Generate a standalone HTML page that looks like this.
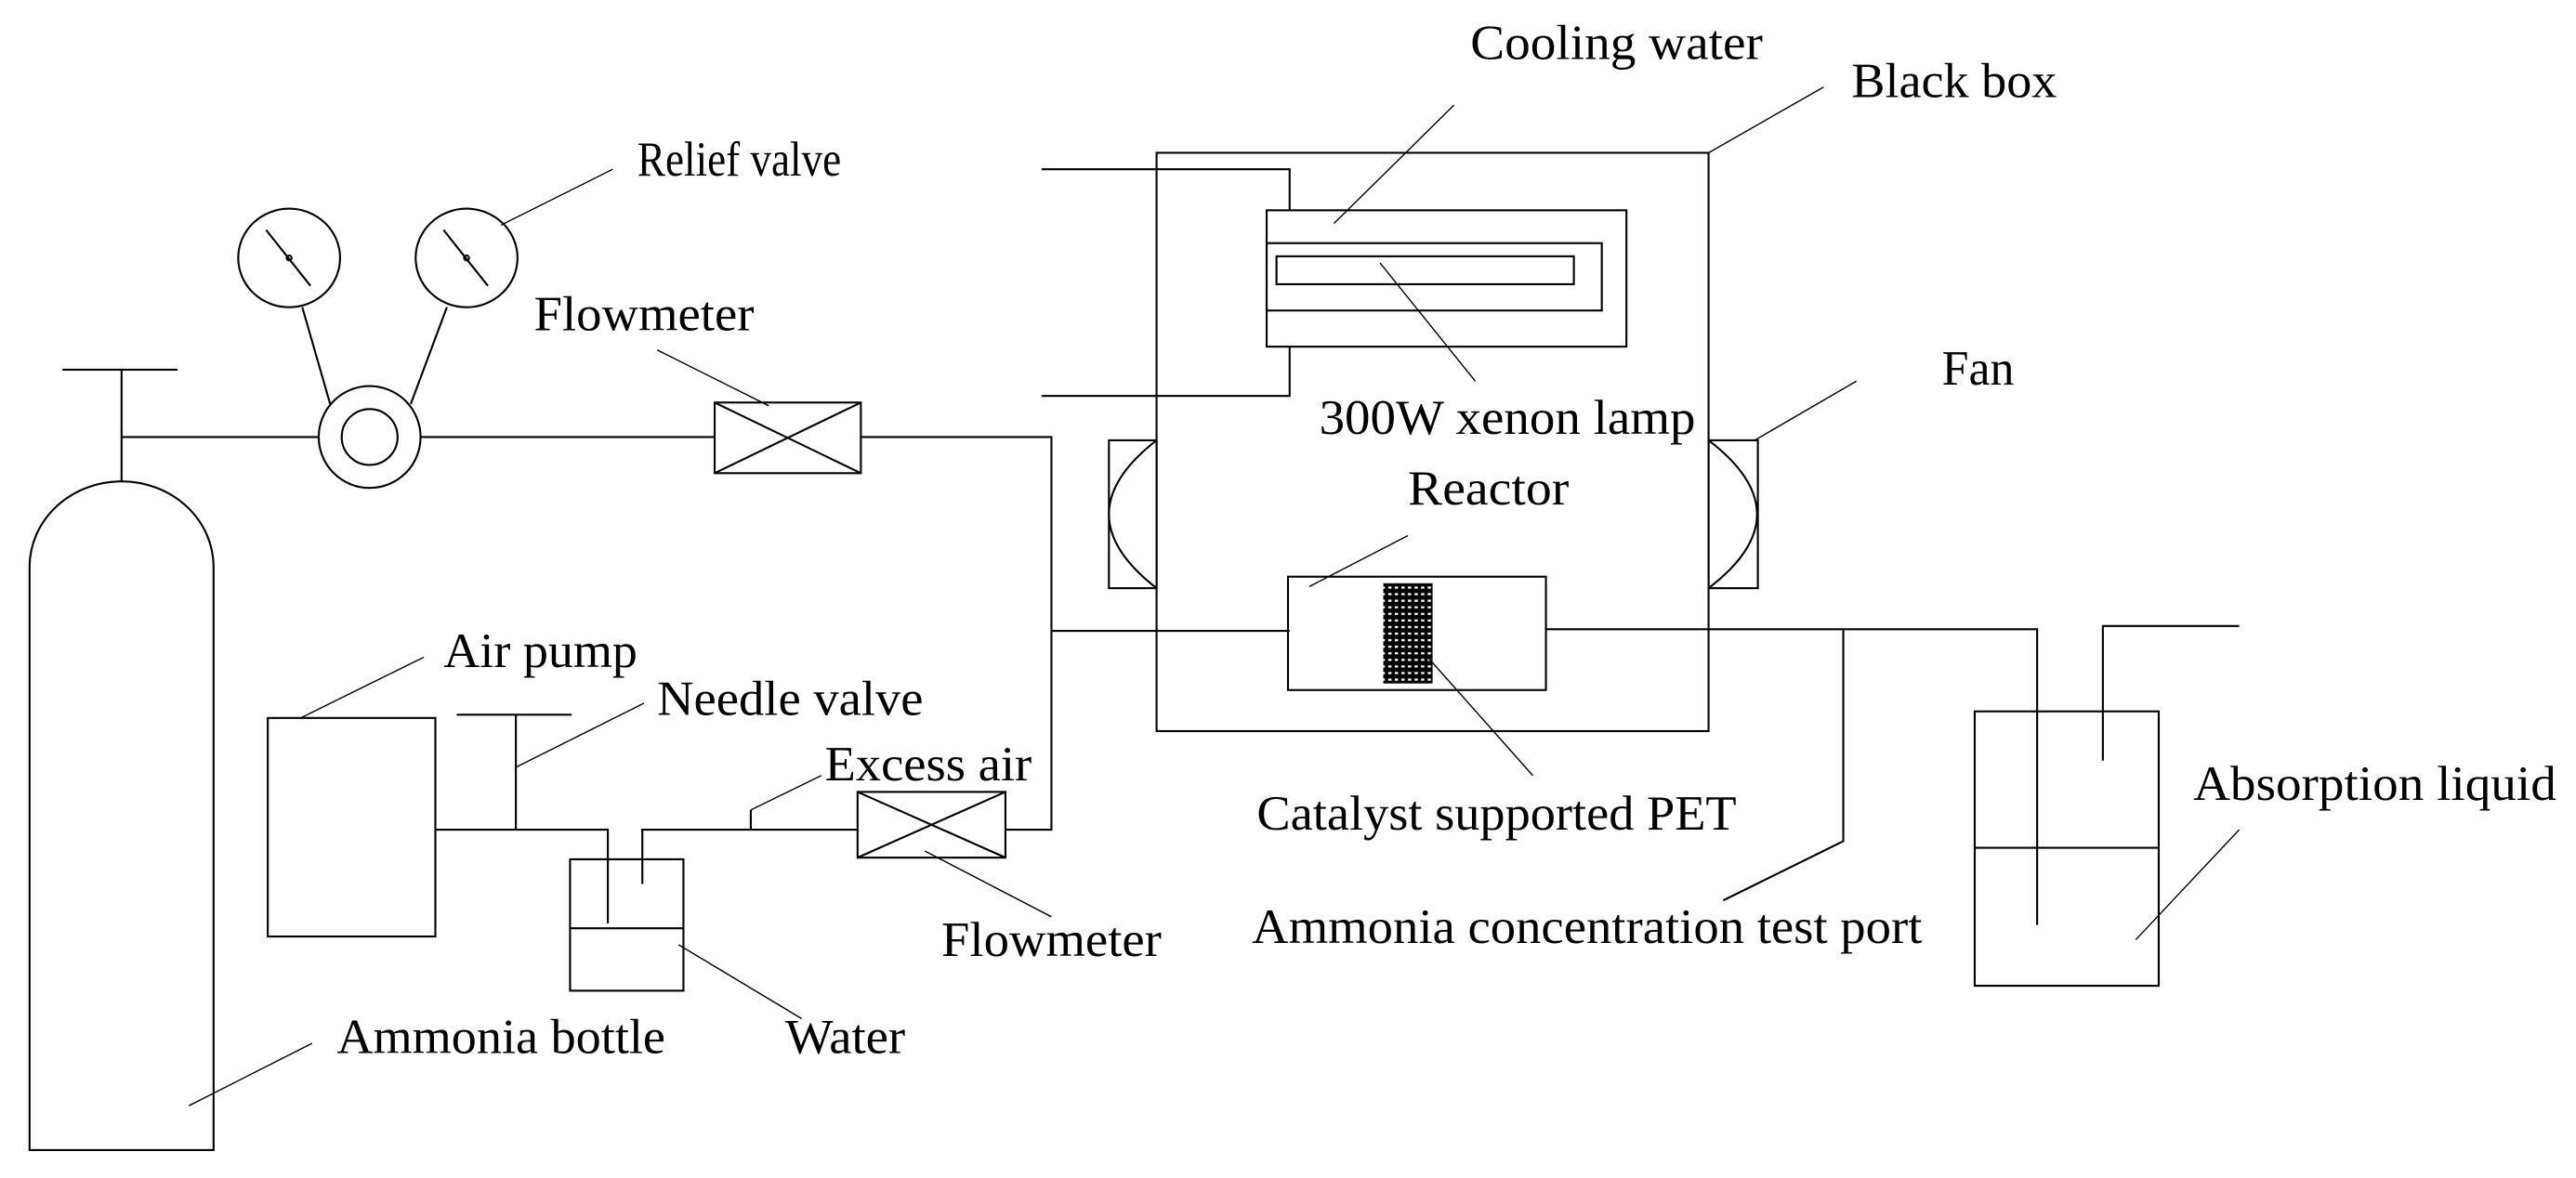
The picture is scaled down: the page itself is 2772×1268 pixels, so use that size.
<!DOCTYPE html>
<html><head><meta charset="utf-8"><style>
html,body{margin:0;padding:0;background:#fff;}
svg{display:block;}
text{font-family:"Liberation Serif",serif;font-size:30px;fill:#000;}
</style></head><body>
<svg width="2772" height="1268" viewBox="0 0 1568 717" preserveAspectRatio="none" xmlns="http://www.w3.org/2000/svg">
<defs>
<pattern id="cat" width="4" height="4" patternUnits="userSpaceOnUse">
<rect width="4" height="4" fill="#000"/><rect x="1" y="1" width="2" height="1.3" fill="#fff"/>
</pattern>
</defs>
<g fill="none" stroke="#000" stroke-width="1.2">
<path d="M18,700 V345 A56,52 0 0 1 130,345 V700 Z"/>
<line x1="74" y1="225" x2="74" y2="293"/>
<line x1="38" y1="225" x2="108" y2="225"/>
<line x1="74" y1="266" x2="194" y2="266"/>
<circle cx="225" cy="266" r="31"/>
<circle cx="225" cy="266" r="17"/>
<line x1="256" y1="266" x2="435" y2="266"/>
<ellipse cx="176" cy="157" rx="31" ry="30"/>
<ellipse cx="284" cy="157" rx="31" ry="30"/>
<line x1="162" y1="140" x2="189" y2="174"/>
<line x1="270" y1="140" x2="297" y2="174"/>
<circle cx="176" cy="157" r="1.5"/>
<circle cx="284" cy="157" r="1.5"/>
<line x1="184" y1="187" x2="201" y2="246"/>
<line x1="272" y1="187" x2="250" y2="246"/>
<rect x="435" y="245" width="89" height="43"/>
<line x1="435" y1="245" x2="524" y2="288"/>
<line x1="435" y1="288" x2="524" y2="245"/>
<polyline points="524,266 640,266 640,505 612,505"/>
<line x1="640" y1="384" x2="785" y2="384"/>
<rect x="704" y="93" width="336" height="352"/>
<polyline points="634,103 785,103 785,128"/>
<polyline points="634,241 785,241 785,211"/>
<rect x="771" y="128" width="219" height="83"/>
<rect x="771" y="148" width="204" height="41"/>
<rect x="777" y="156" width="181" height="17"/>
<rect x="675" y="268" width="29" height="90"/>
<path d="M704,268 Q646,313 704,358"/>
<rect x="1040" y="268" width="30" height="90"/>
<path d="M1040,268 Q1099,313 1040,358"/>
<rect x="784" y="351" width="157" height="69"/>
<rect x="842" y="355" width="30" height="61" fill="url(#cat)" stroke="none"/>
<polyline points="941,383 1240,383 1240,563"/>
<polyline points="1122,383 1122,512 1049,548"/>
<rect x="1202" y="433" width="112" height="167"/>
<line x1="1202" y1="516" x2="1314" y2="516"/>
<polyline points="1280,463 1280,381 1363,381"/>
<rect x="163" y="437" width="102" height="133"/>
<line x1="278" y1="435" x2="348" y2="435"/>
<line x1="314" y1="435" x2="314" y2="505"/>
<polyline points="265,505 370,505 370,562"/>
<rect x="347" y="523" width="69" height="80"/>
<line x1="347" y1="565" x2="416" y2="565"/>
<polyline points="391,538 391,505 522,505"/>
<line x1="457" y1="493" x2="457" y2="505"/>
<rect x="522" y="482" width="90" height="40"/>
<line x1="522" y1="482" x2="612" y2="522"/>
<line x1="522" y1="522" x2="612" y2="482"/>
</g>
<g stroke="#000" stroke-width="0.8" fill="none">
<line x1="305" y1="137" x2="373" y2="103"/>
<line x1="400" y1="213" x2="468" y2="247"/>
<line x1="812" y1="136" x2="885" y2="64"/>
<line x1="1040" y1="93" x2="1110" y2="53"/>
<line x1="840" y1="160" x2="898" y2="232"/>
<line x1="1068" y1="268" x2="1130" y2="232"/>
<line x1="797" y1="357" x2="857" y2="326"/>
<line x1="869" y1="400" x2="933" y2="472"/>
<line x1="1300" y1="572" x2="1363" y2="505"/>
<line x1="183" y1="437" x2="258" y2="400"/>
<line x1="314" y1="467" x2="392" y2="428"/>
<line x1="457" y1="493" x2="500" y2="472"/>
<line x1="563" y1="518" x2="640" y2="558"/>
<line x1="413" y1="575" x2="488" y2="620"/>
<line x1="115" y1="673" x2="190" y2="635"/>
</g>
<g>
<text x="388" y="107" textLength="124" lengthAdjust="spacingAndGlyphs">Relief valve</text>
<text x="325" y="201" textLength="134" lengthAdjust="spacingAndGlyphs">Flowmeter</text>
<text x="895" y="36" textLength="178" lengthAdjust="spacingAndGlyphs">Cooling water</text>
<text x="1127" y="59" textLength="125" lengthAdjust="spacingAndGlyphs">Black box</text>
<text x="803" y="264" textLength="229" lengthAdjust="spacingAndGlyphs">300W xenon lamp</text>
<text x="1182" y="234" textLength="44" lengthAdjust="spacingAndGlyphs">Fan</text>
<text x="857" y="307" textLength="98" lengthAdjust="spacingAndGlyphs">Reactor</text>
<text x="270" y="406" textLength="118" lengthAdjust="spacingAndGlyphs">Air pump</text>
<text x="400" y="435" textLength="162" lengthAdjust="spacingAndGlyphs">Needle valve</text>
<text x="502" y="475" textLength="126" lengthAdjust="spacingAndGlyphs">Excess air</text>
<text x="765" y="505" textLength="292" lengthAdjust="spacingAndGlyphs">Catalyst supported PET</text>
<text x="1335" y="487" textLength="221" lengthAdjust="spacingAndGlyphs">Absorption liquid</text>
<text x="573" y="582" textLength="134" lengthAdjust="spacingAndGlyphs">Flowmeter</text>
<text x="762" y="574" textLength="408" lengthAdjust="spacingAndGlyphs">Ammonia concentration test port</text>
<text x="205" y="641" textLength="200" lengthAdjust="spacingAndGlyphs">Ammonia bottle</text>
<text x="478" y="641" textLength="73" lengthAdjust="spacingAndGlyphs">Water</text>
</g>
</svg>
</body></html>
